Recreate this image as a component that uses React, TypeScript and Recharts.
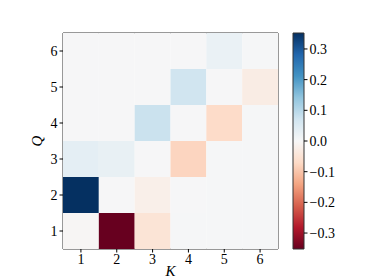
import { ScatterChart, Scatter, XAxis, YAxis, ReferenceArea, Label } from "recharts";

// K along x, Q along y
const kValues = [1, 2, 3, 4, 5, 6];
const qValues = [1, 2, 3, 4, 5, 6];

// one row per Q (bottom to top), one entry per K
const q1 = [-0.005, -0.352, -0.048, 0.003, 0.004, 0.004];
const q2 = [0.352, 0.002, -0.02, 0.002, 0.003, 0.003];
const q3 = [0.035, 0.027, 0.002, -0.078, 0.003, 0.003];
const q4 = [0.002, 0.002, 0.077, 0.002, -0.068, 0.003];
const q5 = [0.002, 0.002, 0.002, 0.07, 0.002, -0.028];
const q6 = [0.002, 0.002, 0.002, 0.002, 0.025, 0.003];
const rows = [q1, q2, q3, q4, q5, q6];

const colorbarTicks = [-0.3, -0.2, -0.1, 0, 0.1, 0.2, 0.3];
const vmax = 0.352;

const rdbu = ["#67001f", "#b2182b", "#d6604d", "#f4a582", "#fddbc7", "#f7f7f7", "#d1e5f0", "#92c5de", "#4393c3", "#2166ac", "#053061"];

const W = 374;
const H = 280;
const PLOT_LEFT = 63;
const PLOT_RIGHT = 278;
const PLOT_TOP = 33;
const PLOT_BOTTOM = 249;
const CB_LEFT = 293;
const CB_RIGHT = 304;
const CELL_W = (PLOT_RIGHT - PLOT_LEFT) / kValues.length;
const CELL_H = (PLOT_BOTTOM - PLOT_TOP) / qValues.length;
const FONT = "'Liberation Serif', serif";

function hexToRgb(h: string) {
  return [1, 3, 5].map((i) => parseInt(h.slice(i, i + 2), 16));
}

function colorFor(v: number) {
  let t = (v + vmax) / (2 * vmax);
  t = Math.max(0, Math.min(1, t));
  const pos = t * (rdbu.length - 1);
  const i = Math.min(rdbu.length - 2, Math.floor(pos));
  const f = pos - i;
  const a = hexToRgb(rdbu[i]);
  const b = hexToRgb(rdbu[i + 1]);
  const c = a.map((x, j) => Math.round(x + (b[j] - x) * f));
  return `rgb(${c[0]},${c[1]},${c[2]})`;
}

const cells = qValues.flatMap((q, qi) =>
  kValues.map((k, ki) => ({ k, q, value: rows[qi][ki] }))
);

// ends of the colour bar, used only to give its axes a domain
const cbEnds = [
  { x: 0, v: -vmax },
  { x: 1, v: vmax },
];

const tickStyle = { fontFamily: FONT, fontSize: 14, fill: "#000" };

function HeatCell(props: any) {
  const { cx, cy, payload } = props;
  return (
    <rect
      x={cx - CELL_W / 2}
      y={cy - CELL_H / 2}
      width={CELL_W}
      height={CELL_H}
      fill={colorFor(payload.value)}
    />
  );
}

const fmt = (v: number) => (v < 0 ? "\u2212" + Math.abs(v).toFixed(1) : v.toFixed(1));

export default function App() {
  return (
    <div style={{ position: "absolute", left: 0, top: 0, width: W, height: H, background: "#fff" }}>
      <div style={{ position: "absolute", left: 0, top: 0 }}>
        <ScatterChart
          width={W}
          height={H}
          margin={{ top: PLOT_TOP, right: W - PLOT_RIGHT, bottom: 0, left: 0 }}
        >
          <XAxis
            type="number"
            dataKey="k"
            domain={[0.5, 6.5]}
            ticks={kValues}
            height={H - PLOT_BOTTOM}
            tick={tickStyle}
            stroke="#000"
            tickSize={3.5}
            tickLine={{ stroke: "#000" }}
            axisLine={false}
          >
            <Label
              content={(p: any) => (
                <text
                  x={p.viewBox.x + p.viewBox.width / 2}
                  y={276}
                  textAnchor="middle"
                  style={{ fontFamily: FONT, fontSize: 15, fontStyle: "italic" }}
                >
                  K
                </text>
              )}
            />
          </XAxis>
          <YAxis
            type="number"
            dataKey="q"
            domain={[0.5, 6.5]}
            ticks={qValues}
            width={PLOT_LEFT}
            tick={tickStyle}
            stroke="#000"
            tickSize={3.5}
            tickLine={{ stroke: "#000" }}
            axisLine={false}
          >
            <Label
              content={(p: any) => {
                const x = 42;
                const y = p.viewBox.y + p.viewBox.height / 2;
                return (
                  <text
                    x={x}
                    y={y}
                    textAnchor="middle"
                    transform={`rotate(-90 ${x} ${y})`}
                    style={{ fontFamily: FONT, fontSize: 15, fontStyle: "italic" }}
                  >
                    Q
                  </text>
                );
              }}
            />
          </YAxis>
          <Scatter data={cells} shape={HeatCell} isAnimationActive={false} />
          <ReferenceArea x1={0.5} x2={6.5} y1={0.5} y2={6.5} fill="none" stroke="#333" strokeWidth={1} />
        </ScatterChart>
      </div>
      <div style={{ position: "absolute", left: 0, top: 0 }}>
        <ScatterChart
          width={W}
          height={H}
          margin={{ top: PLOT_TOP, right: 0, bottom: H - PLOT_BOTTOM, left: CB_LEFT }}
        >
          <defs>
            <linearGradient id="rdbu" x1="0" y1="1" x2="0" y2="0">
              {rdbu.map((c, i) => (
                <stop key={i} offset={`${(i / (rdbu.length - 1)) * 100}%`} stopColor={c} />
              ))}
            </linearGradient>
          </defs>
          <XAxis type="number" dataKey="x" domain={[0, 1]} hide />
          <YAxis
            type="number"
            dataKey="v"
            orientation="right"
            domain={[-vmax, vmax]}
            ticks={colorbarTicks}
            width={W - CB_RIGHT}
            tick={tickStyle}
            stroke="#000"
            tickFormatter={fmt}
            tickSize={3.5}
            tickLine={{ stroke: "#000" }}
            axisLine={false}
          />
          <Scatter data={cbEnds} shape={() => <g />} isAnimationActive={false} />
          <ReferenceArea x1={0} x2={1} y1={-vmax} y2={vmax} fill="url(#rdbu)" fillOpacity={1} stroke="#333" strokeWidth={1} />
        </ScatterChart>
      </div>
    </div>
  );
}
